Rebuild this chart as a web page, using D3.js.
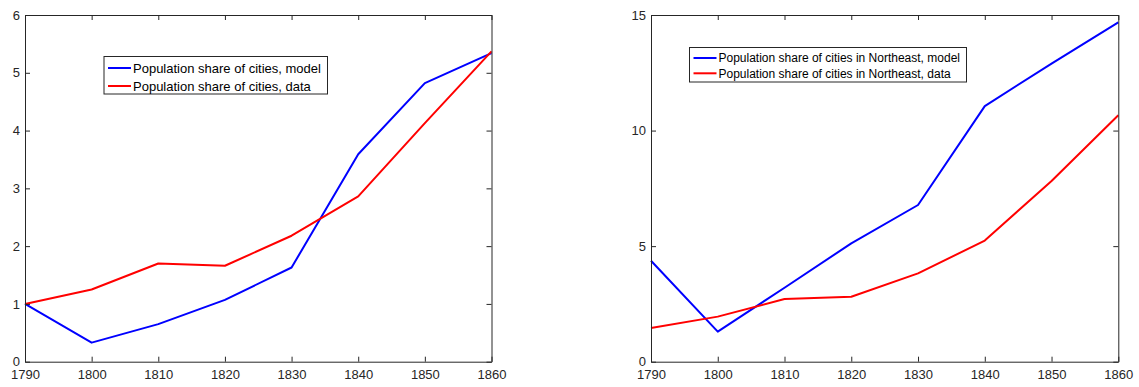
<!DOCTYPE html>
<html>
<head>
<meta charset="utf-8">
<script src="https://cdn.jsdelivr.net/npm/d3@7"></script>
<style>
  body { margin: 0; background: #fff; }
  svg { display: block; font-family: "Liberation Sans", Arial, sans-serif; }
</style>
</head>
<body>
<svg id="chart"></svg>
<script>
const years = [1790, 1800, 1810, 1820, 1830, 1840, 1850, 1860];

// left panel: all cities
const modelAll = [1.0, 0.33, 0.65, 1.07, 1.63, 3.59, 4.82, 5.34];
const dataAll  = [1.0, 1.25, 1.70, 1.66, 2.18, 2.86, 4.13, 5.37];

// right panel: cities in the Northeast
const modelNE = [4.37, 1.30, 3.20, 5.12, 6.78, 11.06, 12.90, 14.68];
const dataNE  = [1.46, 1.95, 2.71, 2.81, 3.82, 5.24, 7.82, 10.66];

const yTicksLeft = [0, 1, 2, 3, 4, 5, 6];
const yTicksRight = [0, 5, 10, 15];

const width = 1139, height = 387;
const svg = d3.select("#chart").attr("width", width).attr("height", height);

const axisColor = "#262626";

const drawPanel = (opts) => {
    const { x0, x1, yMax, yTicks, model, data, labels, legend } = opts;
    const top = 15, bottom = 361.7;

    const x = d3.scaleLinear().domain([1790, 1860]).range([x0, x1]);
    const y = d3.scaleLinear().domain([0, yMax]).range([bottom, top]);

    const g = svg.append("g");

    const line = d3.line().x((d, i) => x(years[i])).y(d => y(d));
    g.append("path").datum(model)
        .attr("fill", "none").attr("stroke", "#0000ff").attr("stroke-width", 2)
        .attr("stroke-linejoin", "round").attr("d", line);
    g.append("path").datum(data)
        .attr("fill", "none").attr("stroke", "#ff0000").attr("stroke-width", 2)
        .attr("stroke-linejoin", "round").attr("d", line);

    const styleAxis = sel => {
        sel.attr("font-size", 13).attr("font-family", "'Liberation Sans', Arial, sans-serif");
        sel.select(".domain").attr("stroke", axisColor);
        sel.selectAll(".tick line").attr("stroke", axisColor);
        sel.selectAll("text").attr("fill", axisColor);
    };

    g.append("g").attr("transform", `translate(0,${bottom})`)
        .call(d3.axisBottom(x).tickValues(years).tickFormat(d3.format("d"))
            .tickSizeInner(-5).tickSizeOuter(0).tickPadding(8.5))
        .call(styleAxis);
    g.append("g").attr("transform", `translate(0,${top})`)
        .call(d3.axisTop(x).tickValues(years).tickFormat("")
            .tickSizeInner(-5).tickSizeOuter(0))
        .call(styleAxis);
    g.append("g").attr("transform", `translate(${x0},0)`)
        .call(d3.axisLeft(y).tickValues(yTicks).tickFormat(d3.format("d"))
            .tickSizeInner(-5).tickSizeOuter(0).tickPadding(5))
        .call(styleAxis);
    g.append("g").attr("transform", `translate(${x1},0)`)
        .call(d3.axisRight(y).tickValues(yTicks).tickFormat("")
            .tickSizeInner(-5).tickSizeOuter(0))
        .call(styleAxis);

    // legend
    const lg = g.append("g").attr("transform", `translate(${legend.x},${legend.y})`);
    lg.append("rect")
        .attr("width", legend.w).attr("height", legend.h)
        .attr("fill", "#fff").attr("stroke", axisColor).attr("stroke-width", 1);
    const colors = ["#0000ff", "#ff0000"];
    labels.forEach((t, i) => {
        const ry = legend.row0 + i * legend.step;
        lg.append("line")
            .attr("x1", 4).attr("x2", 4 + legend.sample)
            .attr("y1", ry).attr("y2", ry)
            .attr("stroke", colors[i]).attr("stroke-width", 2);
        lg.append("text")
            .attr("x", 6 + legend.sample).attr("y", ry).attr("dy", "0.35em")
            .attr("fill", "#000").style("font-size", legend.font + "px")
            .text(t);
    });
};

drawPanel({
    x0: 25, x1: 491.5, yMax: 6, yTicks: yTicksLeft,
    model: modelAll, data: dataAll,
    labels: ["Population share of cities, model", "Population share of cities, data"],
    legend: { x: 104, y: 56.5, w: 223.5, h: 37.5, row0: 11.5, step: 18, sample: 23, font: 13 }
});

drawPanel({
    x0: 651, x1: 1118.3, yMax: 15, yTicks: yTicksRight,
    model: modelNE, data: dataNE,
    labels: ["Population share of cities in Northeast, model", "Population share of cities in Northeast, data"],
    legend: { x: 689.5, y: 47.5, w: 277, h: 34.5, row0: 10.5, step: 15.3, sample: 23, font: 12 }
});
</script>
</body>
</html>
